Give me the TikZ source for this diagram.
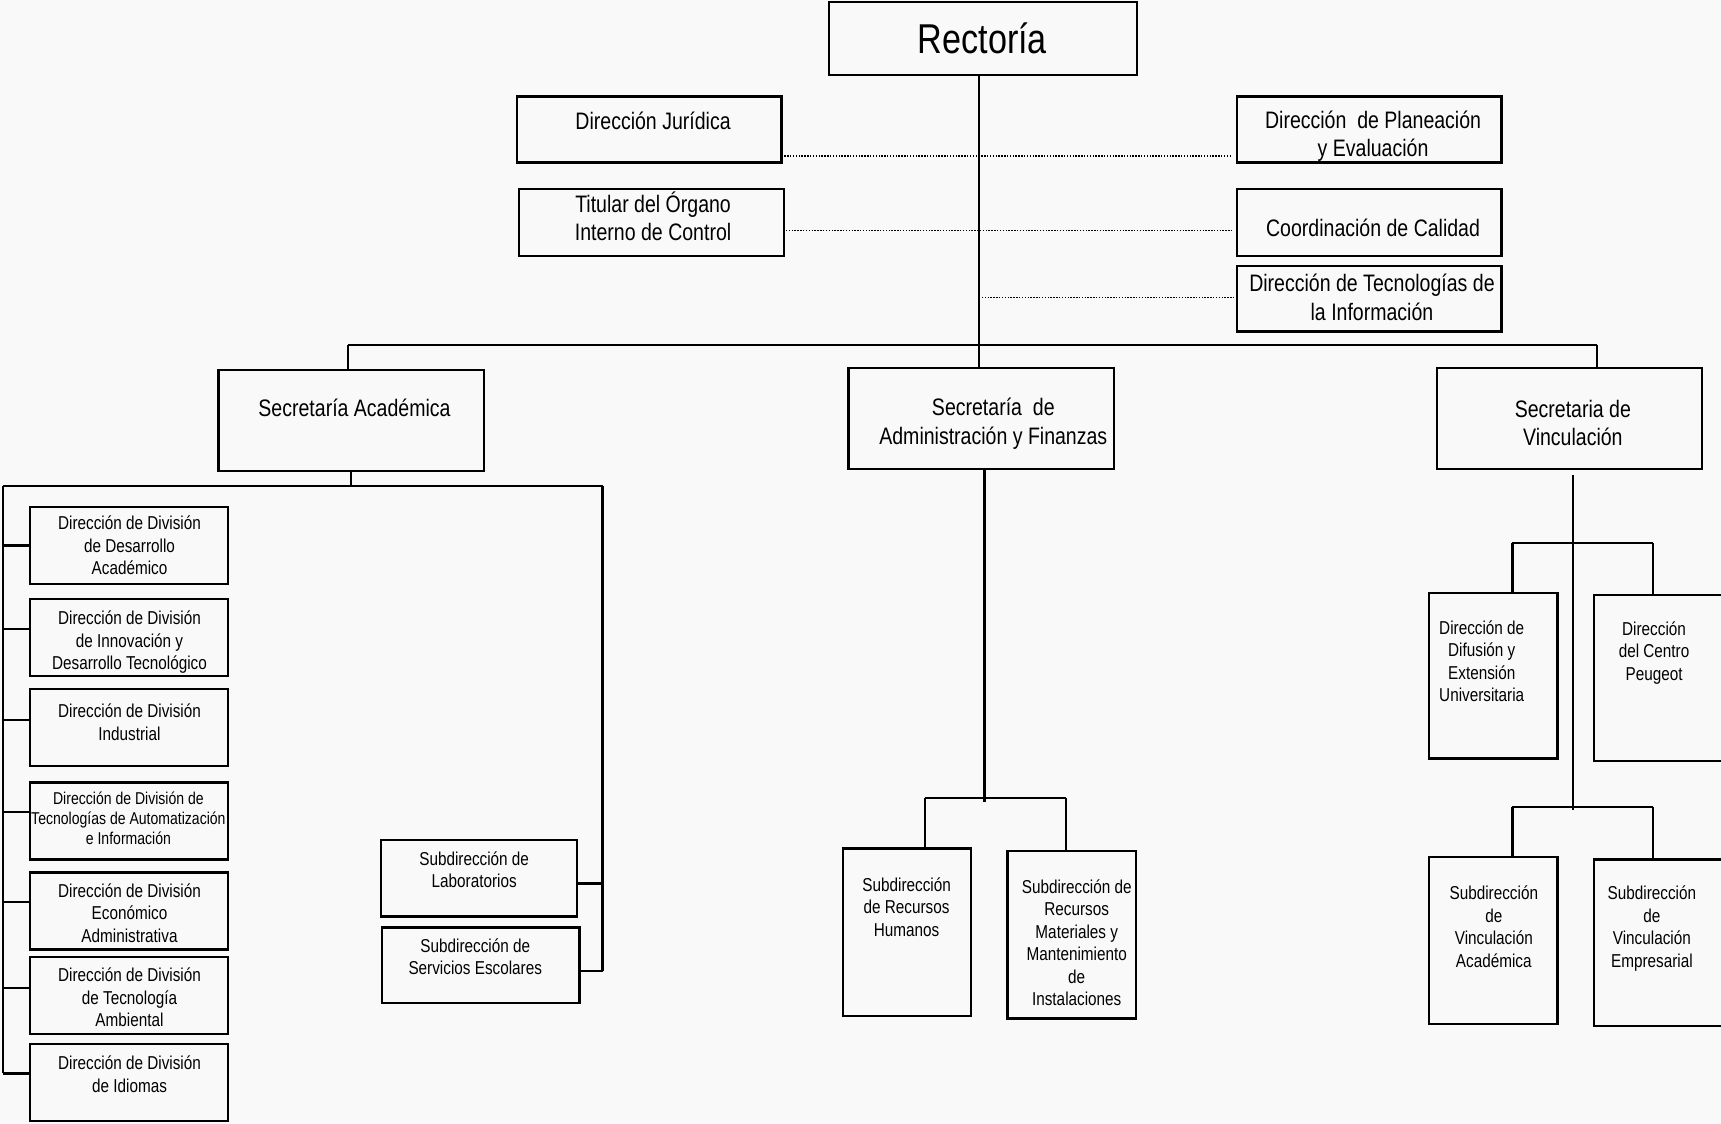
\documentclass[tikz,border=0pt]{standalone}
\usepackage{fontspec}
\setmainfont[FakeStretch=0.82]{Liberation Sans}
\definecolor{bgc}{HTML}{F9F9F9}
\newcommand\orgbox[5]{\node[bx, minimum width={(#4)-(#2)}, minimum height={(#5)-(#3)}] (#1) at ({((#2)+(#4))/2},{((#3)+(#5))/2}) {};}
\begin{document}
\begin{tikzpicture}[x=1pt,y=-1pt,
 bx/.style={draw=black, line width=2pt, inner sep=0pt, outer sep=0pt},
 ln/.style={draw=black, line width=2pt},
 dl/.style={draw=black, line width=1.5pt, dash pattern=on 1.3pt off 1.3pt},
 tR/.style={inner sep=0pt, align=center, font=\fontsize{38}{45}\selectfont},
 tL/.style={inner sep=0pt, align=center, font=\fontsize{21.7}{26}\selectfont},
 tS/.style={inner sep=0pt, align=center, font=\fontsize{17}{20.5}\selectfont},
 tX/.style={inner sep=0pt, align=center, font=\fontsize{15.6}{18.5}\selectfont}]
\useasboundingbox (0,0) rectangle (1568,1024);
\fill[bgc] (0,0) rectangle (1568,1024);
% boxes
\orgbox{rect}{755}{2}{1036}{68}
\orgbox{jur}{471}{88}{712}{148}
\orgbox{plan}{1127}{88}{1368}{148}
\orgbox{tit}{473}{172}{714}{233}
\orgbox{cal}{1127}{172}{1368}{233}
\orgbox{tec}{1127}{242}{1368}{302}
\orgbox{acad}{199}{337}{441}{429}
\orgbox{adm}{773}{335}{1015}{427}
\orgbox{vinc}{1309}{335}{1551}{427}
\orgbox{d1}{27}{462}{208}{532}
\orgbox{d2}{27}{546}{208}{616}
\orgbox{d3}{27}{628}{208}{698}
\orgbox{d4}{27}{713}{208}{783}
\orgbox{d5}{27}{795}{208}{865}
\orgbox{d6}{27}{872}{208}{942}
\orgbox{d7}{27}{951}{208}{1021}
\orgbox{lab}{347}{765}{526}{835}
\orgbox{ser}{348}{845}{528}{914}
\orgbox{rh}{768}{773}{885}{926}
\orgbox{rm}{918}{775}{1035}{928}
\orgbox{dif}{1302}{540}{1419}{691}
\orgbox{peu}{1452}{542}{1570}{693}
\orgbox{va}{1302}{781}{1419}{933}
\orgbox{ve}{1452}{783}{1570}{935}
% texts
\node[tR] (tRect) at (895,35) {Rectoría};
\node[tL] (tJur) at (595,110) {Dirección Jurídica};
\node[tL] (tPlan) at (1251,124) {Dirección~ de Planeación\\y Evaluación};
\node[tL] (tTit) at (595,197) {Titular del Órgano\\Interno de Control};
\node[tL] (tCal) at (1251,208) {Coordinación de Calidad};
\node[tL] (tTec) at (1250,271) {Dirección de Tecnologías de\\la Información};
\node[tL] (tAcad) at (323,372) {Secretaría Académica};
\node[tL] (tAdm) at (905,386) {Secretaría~ de\\Administración y Finanzas};
\node[tL] (tVinc) at (1433,385.5) {Secretaria de\\Vinculación};
\node[tS] (t1) at (118,497) {Dirección de División\\de Desarrollo\\Académico};
\node[tS] (t2) at (118,585) {Dirección de División\\de Innovación y\\Desarrollo Tecnológico};
\node[tS] (t3) at (118,658) {Dirección de División\\Industrial};
\node[tX] (t4) at (117,745.5) {Dirección de División de\\Tecnologías de Automatización\\e Información};
\node[tS] (t5) at (118,832) {Dirección de División\\Económico\\Administrativa};
\node[tS] (t6) at (118,909) {Dirección de División\\de Tecnología\\Ambiental};
\node[tS] (t7) at (118,978.5) {Dirección de División\\de Idiomas};
\node[tS] (tLab) at (432,792.5) {Subdirección de\\Laboratorios};
\node[tS] (tSer) at (433,871.5) {Subdirección de\\Servicios Escolares};
\node[tS] (tRH) at (826,826.5) {Subdirección\\de Recursos\\Humanos};
\node[tS] (tRM) at (981,859) {Subdirección de\\Recursos\\Materiales y\\Mantenimiento\\de\\Instalaciones};
\node[tS] (tDif) at (1350,602.5) {Dirección de\\Difusión y\\Extensión\\Universitaria};
\node[tS] (tPeu) at (1507,595) {Dirección\\del Centro\\Peugeot};
\node[tS] (tVA) at (1361,844.5) {Subdirección\\de\\Vinculación\\Académica};
\node[tS] (tVE) at (1505,846) {Subdirección\\de\\Vinculación\\Empresarial};
% junction coordinates
\coordinate (j0) at (892,314);
\coordinate (busL) at (317,314);
\coordinate (busR) at (1455,314);
\coordinate (e1) at (1122,142);
\coordinate (e2) at (1124,210);
\coordinate (e3) at (1124,271);
\coordinate (aL) at (3,443);
\coordinate (aR) at (549,443);
\coordinate (m0) at (897,727);
\coordinate (m1) at (897,731);
\coordinate (mL) at (843,727);
\coordinate (mR) at (971,727);
\coordinate (v0) at (1433,433);
\coordinate (v1) at (1433,738);
\coordinate (vL1) at (1378,495);
\coordinate (vR1) at (1506,495);
\coordinate (vL2) at (1378,735);
\coordinate (vR2) at (1506,735);
\coordinate (yd1) at (0,497);
\coordinate (yd2) at (0,573);
\coordinate (yd3) at (0,656);
\coordinate (yd4) at (0,740);
\coordinate (yd5) at (0,822);
\coordinate (yd6) at (0,900);
\coordinate (yd7) at (0,978);
\coordinate (ylab) at (0,805);
\coordinate (yser) at (0,885);
% top connectors
\draw[ln] (rect.south -| j0) -- (adm.north -| j0);
\draw[ln] (busL) -- (busR);
\draw[ln] (busL) -- (acad.north -| busL);
\draw[ln] (busR) -- (vinc.north -| busR);
\draw[dl] (jur.east |- e1) -- (e1);
\draw[dl] ([xshift=2pt]tit.east |- e2) -- (e2);
\draw[dl] (e3 -| j0) -- (e3);
% academica
\draw[ln] (acad.south) -- (acad.south |- aL);
\draw[ln] (aL) -- (aR);
\draw[ln] (aL) -- (aL |- yd7);
\draw[ln] (aR) -- (aR |- yser);
\foreach \n in {d1,d2,d3,d4,d5,d6,d7}{
  \draw[ln] (\n.west |- y\n) -- (aL |- y\n);
}
\draw[ln] (lab.east |- ylab) -- (aR |- ylab);
\draw[ln] (ser.east |- yser) -- (aR |- yser);
% administracion
\draw[ln] (adm.south -| m0) -- (m1);
\draw[ln] (mL) -- (mR);
\draw[ln] (mL) -- (rh.north -| mL);
\draw[ln] (mR) -- (rm.north -| mR);
% vinculacion
\draw[ln] (v0) -- (v1);
\draw[ln] (vL1) -- (vR1);
\draw[ln] (vL1) -- (dif.north -| vL1);
\draw[ln] (vR1) -- (peu.north -| vR1);
\draw[ln] (vL2) -- (vR2);
\draw[ln] (vL2) -- (va.north -| vL2);
\draw[ln] (vR2) -- (ve.north -| vR2);
\end{tikzpicture}
\end{document}
